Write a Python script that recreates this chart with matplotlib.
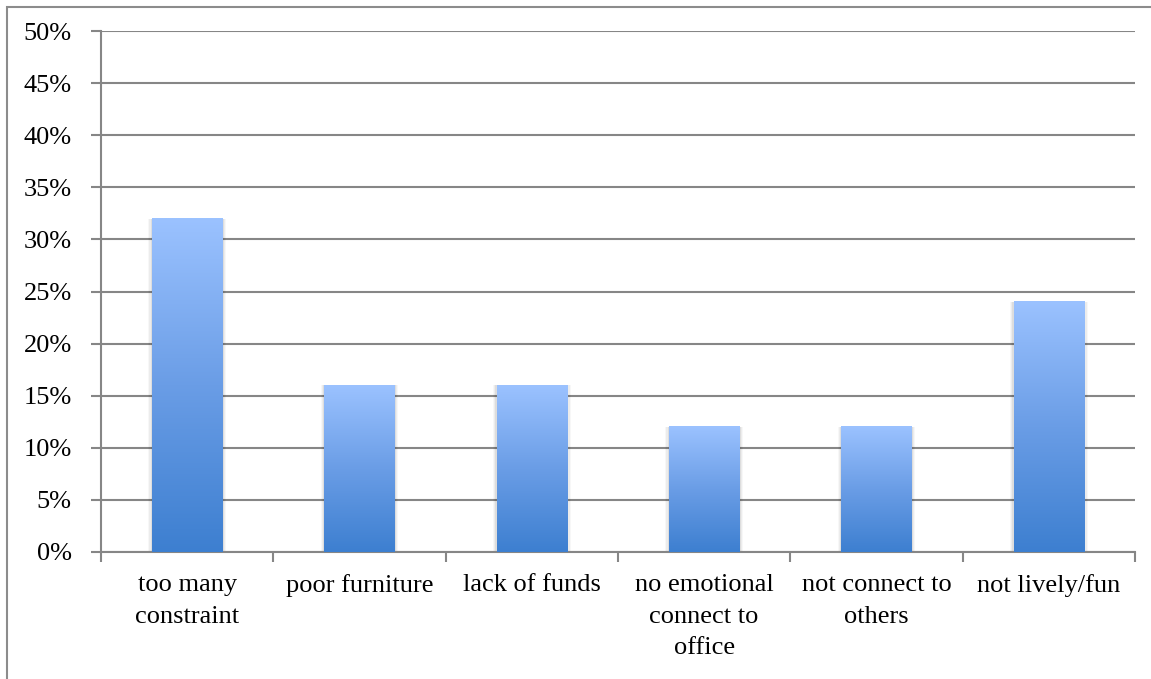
import numpy as np
import matplotlib
matplotlib.use("Agg")
import matplotlib.pyplot as plt
from matplotlib.colors import LinearSegmentedColormap
from matplotlib.patches import Rectangle

categories = ["too many\nconstraint", "poor furniture", "lack of funds",
              "no emotional\nconnect to\noffice", "not connect to\nothers", "not lively/fun"]
values = [0.32, 0.16, 0.16, 0.12, 0.12, 0.24]
yticks = [0.0, 0.05, 0.10, 0.15, 0.20, 0.25, 0.30, 0.35, 0.40, 0.45, 0.50]
ytick_labels = ["0%", "5%", "10%", "15%", "20%", "25%", "30%", "35%", "40%", "45%", "50%"]

plt.rcParams["font.family"] = ["Liberation Serif", "DejaVu Serif"]

W, H = 1151, 679
fig = plt.figure(figsize=(W / 100, H / 100), dpi=100)
ax = fig.add_axes([101 / W, 1 - 552 / H, (1135 - 101) / W, (552 - 31) / H])

grid_c = "#868686"
cmap = LinearSegmentedColormap.from_list("bar", ["#3d7fd0", "#6a9de6", "#9bc2ff"])
grad = np.linspace(0, 1, 256).reshape(-1, 1)

width = 0.41
x = np.arange(len(categories))
for xi, v in zip(x, values):
    # soft shadow around the bar
    for k, a in enumerate([0.06, 0.045, 0.03]):
        d = 0.007 * (k + 1)
        ax.add_patch(Rectangle((xi - width / 2 - d, 0), width + 2 * d, v,
                               facecolor="black", alpha=a, edgecolor="none", zorder=2))
    ax.imshow(grad, extent=[xi - width / 2, xi + width / 2, 0, v], origin="lower",
              cmap=cmap, aspect="auto", zorder=3, interpolation="bilinear")

ax.set_xlim(-0.5, len(categories) - 0.5)
ax.set_ylim(0, 0.5)
ax.set_yticks(yticks)
ax.set_yticklabels(ytick_labels, fontsize=19)
ax.yaxis.grid(True, color=grid_c, linewidth=1.5, zorder=1)
ax.set_axisbelow(True)

ax.set_xticks(x)
ax.set_xticklabels(categories, fontsize=19, linespacing=1.55)
ax.set_xticks(np.arange(-0.5, len(categories)), minor=True)
ax.tick_params(axis="x", which="major", length=0, pad=16)
ax.tick_params(axis="x", which="minor", length=7, width=1.5, color=grid_c)
ax.tick_params(axis="y", length=7, width=1.5, color=grid_c, pad=14)

for s in ["top", "right"]:
    ax.spines[s].set_visible(False)
for s in ["left", "bottom"]:
    ax.spines[s].set_color(grid_c)
    ax.spines[s].set_linewidth(1.5)

# outer chart frame
fig.patches.append(Rectangle((7 / W, -0.05), 1.2, 1 - 7 / H + 0.05, transform=fig.transFigure,
                             facecolor="none", edgecolor="#8c8c8c", linewidth=1.5))

fig.savefig("out.png", dpi=100)
